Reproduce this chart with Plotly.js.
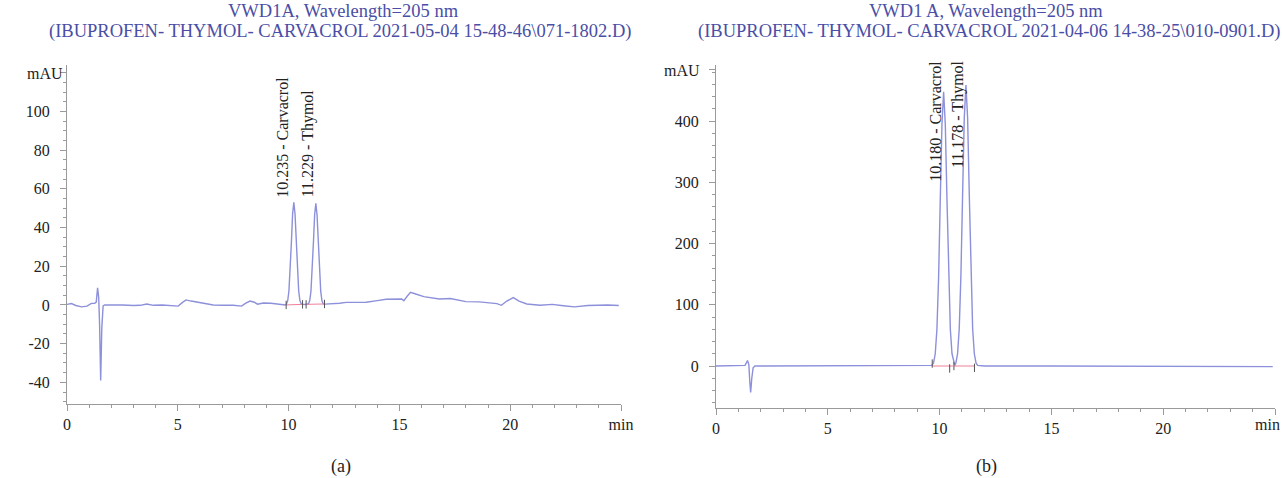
<!DOCTYPE html>
<html>
<head>
<meta charset="utf-8">
<script src="https://cdn.plot.ly/plotly-3.0.1.min.js"></script>
<style>html,body{margin:0;padding:0;background:#fff;}#chart{width:1282px;height:478px;}</style>
</head>
<body>
<div id="chart"></div>
<script>
// ---- Panel (a) chromatogram (time in min, signal in mAU) ----
const timeA = [0, 0.2, 0.4, 0.66, 0.9, 1.1, 1.25, 1.32, 1.38, 1.43, 1.47, 1.52, 1.57, 1.63, 1.7, 2.0, 2.5, 3.0, 3.3, 3.6, 3.9, 4.3, 4.7, 5.02, 5.2, 5.37, 5.6, 6.0, 6.6, 7.0, 7.5, 7.88, 8.05, 8.26, 8.45, 8.6, 8.86, 9.2, 9.6, 9.85,
  9.905, 9.96, 10.015, 10.07, 10.125, 10.18, 10.235, 10.29, 10.345, 10.40, 10.455, 10.51, 10.565,
  10.65, 10.75,
  10.90, 10.954, 11.009, 11.064, 11.119, 11.174, 11.229, 11.284, 11.339, 11.394, 11.449, 11.504, 11.559,
  11.65, 11.9, 12.3, 12.6, 12.9, 13.5, 14.0, 14.4, 15.1, 15.2, 15.35, 15.5, 15.7, 16.1, 16.8, 17.3, 18.0, 18.6, 19.4, 19.6, 19.85, 20.14, 20.4, 20.75, 21.35, 21.9, 22.4, 22.9, 23.5, 24.0, 24.4, 24.9];
const signalA = [0.3, 0.7, -0.3, -1.0, -0.6, 0.8, 0.9, 1.5, 8.8, 4.0, -10, -39, -12, -0.5, 0, 0.1, 0, -0.3, -0.2, 0.5, -0.2, 0, -0.3, -0.6, 1.2, 2.6, 2.0, 1.2, 0, -0.2, -0.2, -0.6, 0.8, 2.0, 1.4, 0.4, 1.0, 0.9, 0.3, 0,
  0.6, 2.3, 7.2, 17, 32, 47, 53, 47, 32, 17, 7.2, 2.3, 0.6,
  0.3, 0.2,
  0.6, 2.3, 7.1, 16.8, 32, 46.5, 52.5, 46.5, 32, 16.8, 7.1, 2.3, 0.6,
  0.4, 0.5, 0.9, 1.3, 1.4, 1.4, 2.2, 2.9, 3.1, 2.2, 4.5, 6.5, 5.8, 4.3, 3.1, 3.3, 1.7, 1.6, 0.7, -0.2, 2.0, 3.8, 2.0, 0.5, -0.2, 0.3, -0.4, -1.0, -0.3, -0.2, 0, -0.3];
const baseTimeA = [9.89, 10.63, null, 10.79, 11.62];
const baseValA = [0, 0.3, null, 0.3, 0.5];
const markTimeA = [9.89, 10.63, 10.79, 11.62];
const markValA = [0, 0.3, 0.3, 0.5];
const peakTimeA = [10.235, 11.229];
const peakLabelA = ["10.235 - Carvacrol", "11.229 - Thymol"];
const labelYA = [54.5, 54.5];

// ---- Panel (b) chromatogram ----
const timeB = [0, 0.5, 1.0, 1.3, 1.41, 1.47, 1.51, 1.55, 1.6, 1.66, 1.74, 3.0, 5.0, 8.0, 9.5, 9.65,
  9.73, 9.805, 9.88, 9.955, 10.03, 10.105, 10.18, 10.255, 10.33, 10.405, 10.48, 10.555, 10.63,
  10.68,
  10.728, 10.803, 10.878, 10.953, 11.028, 11.103, 11.178, 11.253, 11.328, 11.403, 11.478, 11.553, 11.628,
  11.7, 12.0, 15.0, 20.0, 24.9];
const signalB = [0, 0, 0.3, 1, 9, 2, -25, -43, -20, -3, 0, 0, 0.5, 0, 0, 1,
  5, 20, 60, 144, 272, 395, 448, 395, 272, 144, 60, 20, 5,
  1,
  5, 20, 61, 148, 279, 405, 459, 405, 279, 148, 61, 20, 5,
  1, 0, 0, -1, -1];
const baseTimeB = [9.67, 10.6, null, 10.64, 11.56];
const baseValB = [0, 0, null, 0, 0];
const markTimeB = [9.67, 10.45, 10.64, 11.56];
const markValB = [4, -4, 0, -3];
const peakTimeB = [10.18, 11.178];
const peakLabelB = ["10.180 - Carvacrol", "11.178 - Thymol"];
const labelYB = [298, 320];

const ytickA = [-40, -20, 0, 20, 40, 60, 80, 100, 120];
const ytextA = ["-40", "-20", "0", "20", "40", "60", "80", "100", ""];
const ytickB = [0, 100, 200, 300, 400, 484];
const ytextB = ["0", "100", "200", "300", "400", ""];
const xtick = [0, 5, 10, 15, 20, 25];
const xtextA = ["0", "5", "10", "15", "20", "min"];
const xtextB = ["0", "5", "10", "15", "20", ""];

const FONT = "Liberation Serif";
const TRACE = "#8d90da";
const PINK = "#f07f9a";
const TITLE = "#4a4ea6";

const traces = [
  {x: timeA, y: signalA, xaxis: "x", yaxis: "y", mode: "lines", line: {color: TRACE, width: 1.4}, hoverinfo: "skip"},
  {x: baseTimeA, y: baseValA, xaxis: "x", yaxis: "y", mode: "lines", line: {color: PINK, width: 1}, connectgaps: false, hoverinfo: "skip"},
  {x: markTimeA, y: markValA, xaxis: "x", yaxis: "y", mode: "markers", marker: {symbol: "line-ns", size: 6, line: {color: "#555", width: 1}}, hoverinfo: "skip"},
  {x: timeB, y: signalB, xaxis: "x2", yaxis: "y2", mode: "lines", line: {color: TRACE, width: 1.4}, hoverinfo: "skip"},
  {x: baseTimeB, y: baseValB, xaxis: "x2", yaxis: "y2", mode: "lines", line: {color: PINK, width: 1}, connectgaps: false, hoverinfo: "skip"},
  {x: markTimeB, y: markValB, xaxis: "x2", yaxis: "y2", mode: "markers", marker: {symbol: "line-ns", size: 6, line: {color: "#555", width: 1}}, hoverinfo: "skip"}
];

function xaxisDef(domain, range, tt) {
  return {domain: domain, range: range, showline: true, linecolor: "#9a9a9a", linewidth: 1,
    ticks: "outside", ticklen: 6, tickcolor: "#9a9a9a", tickvals: xtick, ticktext: tt,
    minor: {dtick: 1, ticks: "outside", ticklen: 3, tickcolor: "#9a9a9a"},
    showgrid: false, zeroline: false, tickfont: {family: FONT, size: 16, color: "#222"}, fixedrange: true};
}
function yaxisDef(domain, range, anchor, tv, tt, mdt) {
  return {domain: domain, range: range, anchor: anchor, showline: true, linecolor: "#9a9a9a", linewidth: 1,
    ticks: "outside", ticklen: 6, tickcolor: "#9a9a9a", tickvals: tv, ticktext: tt, ticklabelstandoff: 7,
    minor: {dtick: mdt, tick0: 0, ticks: "outside", ticklen: 3, tickcolor: "#9a9a9a"},
    showgrid: false, zeroline: false, tickfont: {family: FONT, size: 16, color: "#222"}, fixedrange: true};
}

const annotations = [];
function addText(t, x, y, size, color) {
  annotations.push({text: t, xref: "paper", yref: "paper", x: x / 1282, y: 1 - y / 478,
    xanchor: "center", yanchor: "middle", showarrow: false, font: {family: FONT, size: size, color: color}});
}
addText("VWD1A, Wavelength=205 nm", 343, 11, 18.5, TITLE);
addText("(IBUPROFEN- THYMOL- CARVACROL 2021-05-04 15-48-46\\071-1802.D)", 340, 32, 18.5, TITLE);
addText("VWD1 A, Wavelength=205 nm", 986, 11, 18.5, TITLE);
addText("(IBUPROFEN- THYMOL- CARVACROL 2021-04-06 14-38-25\\010-0901.D)", 989, 32, 18.5, TITLE);
addText("(a)", 341, 466, 18, "#222");
addText("(b)", 986, 466, 18, "#222");
addText("mAU", 45, 73, 16, "#222");
addText("mAU", 682, 70, 16, "#222");
addText("min", 1267, 424, 16, "#222");

const shiftA = [-11, -7];
peakTimeA.forEach((t, i) => annotations.push({text: peakLabelA[i], x: t, y: labelYA[i], xref: "x", yref: "y",
  textangle: -90, xanchor: "center", yanchor: "bottom", xshift: shiftA[i], showarrow: false,
  font: {family: FONT, size: 16, color: "#222"}}));
const shiftB = [-9, -8];
peakTimeB.forEach((t, i) => annotations.push({text: peakLabelB[i], x: t, y: labelYB[i], xref: "x2", yref: "y2",
  textangle: -90, xanchor: "center", yanchor: "bottom", xshift: shiftB[i], showarrow: false,
  font: {family: FONT, size: 16, color: "#222"}}));

const layout = {
  width: 1282, height: 478, margin: {l: 0, r: 0, t: 0, b: 0},
  paper_bgcolor: "#fff", plot_bgcolor: "#fff", showlegend: false,
  font: {family: FONT},
  xaxis: Object.assign(xaxisDef([67 / 1282, 621 / 1282], [0, 25], xtextA), {anchor: "y"}),
  yaxis: yaxisDef([1 - 404 / 478, 1 - 65 / 478], [-51.2, 124], "x", ytickA, ytextA, 5),
  xaxis2: Object.assign(xaxisDef([716 / 1282, 1275 / 1282], [0, 25], xtextB), {anchor: "y2"}),
  yaxis2: yaxisDef([1 - 408 / 478, 1 - 65 / 478], [-68.6, 491.8], "x2", ytickB, ytextB, 20),
  annotations: annotations
};

Plotly.newPlot("chart", traces, layout, {displayModeBar: false, staticPlot: true});
</script>
</body>
</html>
